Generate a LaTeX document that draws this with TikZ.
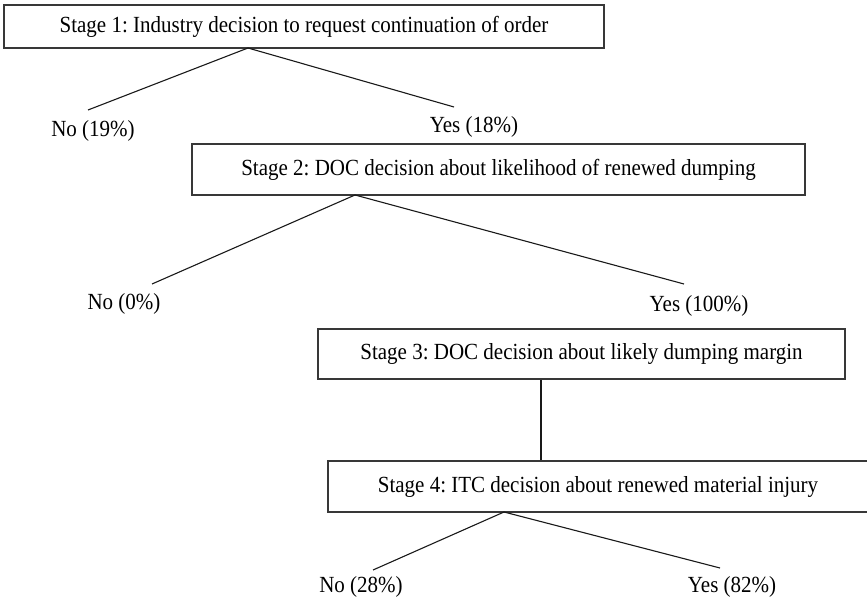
\documentclass[tikz,border=0pt]{standalone}
\usepackage{fontspec}
\setmainfont{Liberation Serif}
\frenchspacing
\newcommand{\tallt}[1]{\scalebox{1}[1.1]{#1}}
\begin{document}
\begin{tikzpicture}[x=1pt,y=-1pt,
  stagebox/.style={draw=black!78, line width=1.7pt, fill=white, inner sep=0pt, align=center,
    font=\fontsize{21}{25}\selectfont},
  lbl/.style={inner sep=0pt, font=\fontsize{21}{25}\selectfont},
  conn/.style={draw=black!90, line width=1.1pt}]
\useasboundingbox (0,0) rectangle (867,599);
% boxes
\node[stagebox, minimum width=600pt, minimum height=43pt] (b1) at (304,26.5)
  {\tallt{Stage 1: Industry decision to request continuation of order}};
\node[stagebox, minimum width=613pt, minimum height=51pt] (b2) at (498.5,169.5)
  {\tallt{Stage 2: DOC decision about likelihood of renewed dumping}};
\node[stagebox, minimum width=527pt, minimum height=50pt] (b3) at (581.5,354)
  {\tallt{Stage 3: DOC decision about likely dumping margin}};
\node[stagebox, minimum width=544pt, minimum height=51pt] (b4) at (600,486.5)
  {\hspace*{-4pt}\tallt{Stage 4: ITC decision about renewed material injury}};
% labels
\node[lbl] (n1) at (93,131) {\tallt{No (19\%)}};
\node[lbl] (y1) at (474,127) {\tallt{Yes (18\%)}};
\node[lbl] (n2) at (124,304) {\tallt{No (0\%)}};
\node[lbl] (y2) at (699,306) {\tallt{Yes (100\%)}};
\node[lbl] (n4) at (361,587) {\tallt{No (28\%)}};
\node[lbl] (y4) at (732,587) {\tallt{Yes (82\%)}};
% apex and free ends
\coordinate (a1) at (248,48);
\coordinate (e1l) at (88,110);
\coordinate (e1r) at (454,107);
\coordinate (a2) at (355,195);
\coordinate (e2l) at (152,284);
\coordinate (e2r) at (684,284);
\coordinate (v) at (541,0);
\coordinate (a4) at (504,512);
\coordinate (e4l) at (373,570);
\coordinate (e4r) at (720,568);
% connectors
\draw[conn] (e1l) -- (a1) -- (e1r);
\draw[conn] (e2l) -- (a2) -- (e2r);
\draw[conn] (b3.south -| v) -- (b4.north -| v);
\draw[conn] (e4l) -- (a4) -- (e4r);
\end{tikzpicture}
\end{document}
